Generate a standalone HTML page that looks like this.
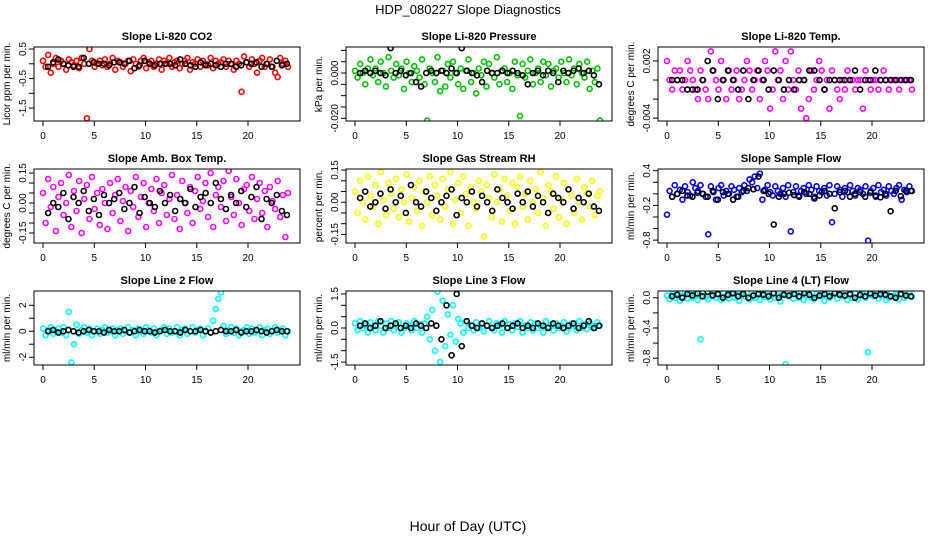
<!DOCTYPE html>
<html><head><meta charset="utf-8"><style>
body{margin:0;background:#fff;}
svg{display:block;font-family:"Liberation Sans",Arial,sans-serif;}
</style></head><body>
<svg id="chart" width="936" height="540" viewBox="0 0 936 540" xmlns="http://www.w3.org/2000/svg">
<rect width="936" height="540" fill="#fff"/>
<text x="468" y="14" text-anchor="middle" font-size="13">HDP_080227  Slope Diagnostics</text>
<text x="468" y="531" text-anchor="middle" font-size="14">Hour of Day (UTC)</text>
<g id="panels"></g>
</svg>
<script>
const xTicks=[0,5,10,15,20];
const titles=["Slope Li-820 CO2","Slope Li-820 Pressure","Slope Li-820 Temp.","Slope Amb. Box Temp.","Slope Gas Stream RH","Slope Sample Flow","Slope Line 2 Flow","Slope Line 3 Flow","Slope Line 4 (LT) Flow"];
const yTitles=["Licor ppm per min.","kPa per min.","degrees C per min.","degrees C per min.","percent per min.","ml/min per min.","ml/min per min.","ml/min per min.","ml/min per min."];
const colors=["#ff0000","#00c000","#ff00ff","#ff00ff","#ffff00","#0000ff","#00ffff","#00ffff","#00ffff"];
const yLims=[[-1.94,0.57],[-0.0212,0.0115],[-0.0043,0.00347],[-0.2,0.17],[-0.19,0.155],[-0.85,0.43],[-2.6,3.1],[-1.63,1.63],[-0.89,0.09]];
const yTicks=[[-1.5,-1,-0.5,0,0.5],[-0.02,-0.015,-0.01,-0.005,0,0.005,0.01],[-0.004,-0.002,0,0.002],[-0.15,-0.1,-0.05,0,0.05,0.1,0.15],[-0.15,-0.1,-0.05,0,0.05,0.1,0.15],[-0.8,-0.6,-0.4,-0.2,0,0.2,0.4],[-2,-1,0,1,2],[-1.5,-1,-0.5,0,0.5,1,1.5],[-0.8,-0.6,-0.4,-0.2,0]];
const yLabels=[["-1.5","","-0.5","","0.5"],["-0.020","","","","0.000","",""],["-0.004","","","0.002"],["-0.15","","","0.00","","","0.15"],["-0.15","","","0.00","","","0.15"],["-0.8","","","-0.2","","","0.4"],["-2","","0","","2"],["-1.5","","","0.0","","","1.5"],["-0.8","","-0.4","","0.0"]];

const co2=[0.1,-0.1,0.3,-0.3,0.0,0.2,-0.1,0.1,0.0,-0.2,0.15,0.05,-0.05,0.1,-0.15,0.2,0.0,-1.85,0.5,0.1,-0.1,0.0,0.1,-0.05,0.15,-0.1,0.0,0.2,-0.2,0.1,0.05,-0.1,0.0,0.1,-0.25,0.15,0.0,-0.1,0.1,0.2,-0.15,0.05,0.1,-0.1,0.0,0.15,-0.2,0.1,0.0,0.2,-0.1,0.05,0.1,-0.15,0.0,0.1,0.2,-0.2,0.05,0.0,0.15,-0.1,0.1,0.0,-0.05,0.2,-0.15,0.1,0.0,0.05,0.15,-0.1,0.1,0.0,-0.2,0.1,0.0,-0.95,0.25,0.05,-0.1,0.15,0.0,-0.3,0.1,0.2,-0.1,0.0,0.15,-0.1,-0.3,-0.45,0.2,0.0,0.1,-0.1];
const co2Ref=[-0.1,0.05,0.15,0.0,-0.05,-0.1,-0.1,0.2,0.0,0.05,0.0,0.0,-0.05,0.05,0.05,0.0,0.1,-0.15,-0.05,0.1,0.0,-0.05,0.0,0.0,0.0,-0.05,0.15,0.0,-0.05,-0.1,0.05,-0.05,0.0,-0.05,-0.1,0.0,0.0,-0.1,-0.05,0.05,0.0,0.05,-0.1,0.0,-0.1,0.1,-0.05,0.0];
const pres=[0.001,-0.002,0.004,0.0,-0.005,0.002,0.006,-0.001,0.002,-0.004,0.005,0.0,-0.006,0.007,0.001,-0.002,0.004,-0.001,0.002,-0.007,0.005,0.0,-0.004,0.003,0.001,-0.002,0.006,-0.005,-0.021,0.002,0.0,-0.004,0.007,-0.008,0.001,-0.006,0.004,-0.002,0.005,0.0,-0.005,0.002,-0.007,0.001,0.006,-0.004,0.0,-0.009,0.002,-0.001,0.005,-0.006,0.004,0.0,-0.002,0.007,-0.005,0.001,0.002,-0.004,0.0,-0.007,0.005,-0.001,-0.019,0.004,-0.002,0.001,0.006,-0.005,0.0,0.002,-0.004,0.005,-0.001,0.004,-0.006,0.001,0.002,-0.002,0.005,0.0,-0.004,0.006,-0.001,0.002,-0.005,0.004,0.0,-0.002,0.005,-0.007,0.001,-0.004,0.002,-0.021];
const presRef=[0,0.001,0,0.001,0,-0.001,0.011,0,0.001,-0.001,0,-0.004,-0.006,0,0.001,0,0.001,0,0.002,0,0.011,0.001,0,-0.001,-0.004,0.001,0,0,0.001,0,0.001,0,-0.001,-0.005,0,0.001,-0.001,0.001,0,-0.004,0.001,0,0.001,0.002,0,0.001,-0.001,-0.005];
const temp=[0.002,0,-0.001,0.001,0,0.001,-0.001,0,0.002,0.001,0,-0.001,-0.002,0.001,0,-0.001,-0.002,0.003,0.001,0,-0.001,0.002,0,-0.002,0.001,-0.001,0,0.001,-0.002,-0.001,0,0.002,0.001,-0.001,0,0.001,-0.002,0,0.002,0.001,-0.003,-0.001,0.003,0,0.001,-0.002,0.002,-0.001,0.003,0,-0.001,0.001,-0.003,0,-0.004,-0.002,0.001,-0.001,0,0.002,0.001,-0.001,0,-0.003,0.001,0,-0.001,-0.002,0,-0.001,0.001,0,0,-0.001,0,0,-0.003,0.001,0,-0.001,0,0,-0.001,0,0.001,0,-0.001,0,0,0,-0.001,0,0,0,0,-0.001];
const tempRef=[0,0,0,-0.001,-0.001,-0.001,0,0.002,0.001,-0.002,0,0.001,0,-0.001,0.001,-0.002,0,0.001,0,-0.001,0.001,0,-0.001,0,-0.001,0,0,0.001,0.001,0,-0.001,0,0,0,0,0,0.001,-0.001,0,0,0.001,0,0,0,0,0,0,0];
const amb=[0.05,-0.1,0.12,-0.02,0.08,-0.14,0.03,0.1,-0.06,0.0,0.14,-0.12,0.06,-0.04,0.11,-0.15,0.02,0.09,-0.08,0.13,-0.03,0.05,-0.11,0.07,0.0,-0.13,0.1,-0.05,0.04,0.12,-0.09,0.01,0.08,-0.14,0.06,-0.02,0.13,-0.07,0.03,0.1,-0.12,0.0,0.07,-0.04,0.12,-0.1,0.05,0.09,-0.06,0.02,0.14,-0.08,0.04,-0.13,0.11,0.0,-0.05,0.08,-0.1,0.06,0.13,-0.03,0.01,0.1,-0.07,0.15,-0.12,0.04,0.08,-0.02,0.11,-0.09,0.16,0.03,-0.06,0.12,0.0,-0.11,0.07,0.09,-0.04,0.13,-0.08,0.02,0.1,-0.05,0.06,-0.12,0.08,0.01,-0.03,0.11,-0.07,0.04,-0.17,0.05];
const ambRef=[-0.05,0.0,-0.02,0.05,-0.08,0.03,0.0,0.06,-0.04,0.02,-0.06,0.04,0.0,0.02,0.05,-0.03,0.0,0.08,-0.05,0.03,0.0,-0.02,0.06,0.0,0.04,-0.04,0.02,0.0,0.07,-0.02,0.03,0.05,0.0,0.1,0.02,-0.03,0.04,0.0,0.06,-0.02,0.03,0.08,-0.08,0.02,0.0,0.04,-0.04,-0.06];
const rh=[0.05,-0.05,0.1,0.0,-0.08,0.12,0.03,-0.02,0.08,-0.1,0.14,0.01,-0.06,0.09,0.04,-0.03,0.11,-0.07,0.06,0.0,0.13,-0.09,0.02,0.07,-0.04,0.1,-0.11,0.05,0.0,0.12,-0.06,0.08,0.03,-0.08,0.11,-0.02,0.06,0.14,-0.1,0.01,0.09,-0.05,0.12,0.04,-0.11,0.07,0.0,-0.03,0.1,0.05,-0.16,0.08,0.02,-0.07,0.13,0.0,0.06,-0.09,0.11,0.03,-0.04,0.09,-0.1,0.07,0.12,-0.02,0.04,-0.08,0.1,0.0,0.06,-0.05,0.14,0.02,-0.11,0.08,0.05,-0.03,0.12,-0.07,0.01,0.09,-0.1,0.06,0.03,-0.05,0.11,0.0,-0.08,0.07,0.04,-0.02,0.1,-0.06,0.03,0.05];
const rhRef=[0.02,0.05,-0.02,0.0,0.04,-0.03,0.06,0.0,0.03,-0.05,0.08,0.0,-0.02,0.05,0.02,-0.04,0.0,0.03,0.06,-0.06,0.02,0.0,0.05,-0.02,0.03,0.0,-0.04,0.06,0.02,0.0,-0.03,0.04,0.0,0.05,-0.02,0.03,0.0,-0.05,0.04,0.02,0.0,0.06,-0.03,0.02,0.0,0.04,-0.02,-0.04];
const flow=[-0.36,0.05,-0.05,0.15,0.0,0.07,-0.1,0.13,0.03,-0.03,0.2,0.1,0.05,0.15,0.0,-0.05,-0.7,0.13,0.03,-0.1,0.1,0.15,-0.03,0.05,0.0,0.13,0.07,-0.05,0.1,0.03,0.15,0.05,0.25,0.2,0.3,0.1,0.35,-0.1,0.07,0.15,0.03,-0.03,0.13,0.05,0.0,0.1,-0.05,0.15,-0.65,0.03,0.13,-0.03,0.05,0.1,0.0,0.15,0.07,-0.05,0.13,0.05,0.03,0.1,-0.03,0.15,-0.49,0.0,0.13,0.07,-0.05,0.1,0.03,0.15,0.05,-0.03,0.1,0.07,0.0,0.13,-0.81,0.05,0.1,-0.05,0.15,0.03,0.07,-0.03,0.13,0.05,0.0,0.1,0.15,-0.1,0.07,0.03,0.13,0.05];
const flowRef=[-0.05,0.0,0.05,-0.03,-0.05,0.02,0.0,-0.05,0.05,-0.1,0.03,0.0,-0.1,-0.05,0.05,0.1,0.08,0.3,0.05,0.0,-0.53,-0.05,0.0,0.02,-0.02,-0.05,0.03,0.0,-0.08,-0.03,0.05,0.0,-0.25,0.03,0.05,-0.05,0.0,0.03,-0.05,0.02,-0.03,-0.06,0.0,-0.3,0.05,-0.04,0.05,0.05];
const line2=[0.2,-0.3,0.1,0.3,-0.2,0.0,0.2,-0.1,0.3,-0.3,1.5,-2.4,-1.0,0.5,-0.2,0.1,0.3,-0.1,0.2,-0.3,0.0,0.2,-0.2,0.1,0.3,-0.1,0.0,0.2,-0.3,0.1,0.2,-0.2,0.0,0.3,-0.1,0.1,-0.3,0.2,0.0,-0.2,0.3,0.1,-0.1,0.2,-0.3,0.0,0.1,0.3,-0.2,0.2,-0.1,0.0,0.3,-0.3,0.1,0.2,-0.2,0.0,0.3,-0.1,0.1,0.2,-0.3,0.0,0.2,-0.1,0.8,1.7,2.5,3.0,0.4,-0.2,0.1,0.3,-0.1,0.2,-0.3,0.0,0.1,0.3,-0.2,0.2,-0.1,0.0,0.3,-0.3,0.1,0.2,-0.2,0.0,0.3,-0.1,0.1,0.2,-0.3,0.0];
const line2Ref=[0.0,0.1,-0.1,0.0,0.1,0.0,-0.1,0.0,0.1,0.0,0.0,-0.1,0.1,0.0,0.0,0.1,-0.1,0.0,0.1,0.0,0.0,-0.1,0.0,0.1,0.0,0.0,-0.1,0.1,0.0,0.0,0.1,0.0,-0.1,0.0,0.1,0.0,0.0,0.1,-0.1,0.0,0.0,0.1,0.0,-0.1,0.0,0.1,0.0,0.0];
const line3=[0.2,-0.1,0.3,0.0,0.1,-0.2,0.25,0.05,-0.1,0.3,0.1,-0.2,0.2,0.0,0.3,-0.1,0.1,0.25,-0.2,0.0,0.2,0.1,-0.1,0.3,0.0,0.15,-0.2,0.2,0.5,-0.5,0.8,-1.0,1.6,-1.5,1.2,-0.8,0.6,-0.3,1.0,-0.6,0.4,0.2,-0.2,0.3,0.0,0.1,-0.1,0.25,0.0,0.2,-0.15,0.1,0.3,0.0,-0.1,0.2,0.1,-0.2,0.3,0.0,0.15,-0.1,0.2,0.05,0.3,-0.2,0.1,0.0,0.25,-0.1,0.2,0.0,0.1,-0.2,0.3,0.05,0.15,-0.1,0.2,0.0,0.1,0.25,-0.15,0.0,0.2,0.1,-0.1,0.3,0.0,0.15,-0.05,0.2,0.1,0.0,0.25,0.1];
const line3Ref=[0.1,0.2,0.0,0.1,0.3,0.0,0.1,0.2,0.0,0.1,0.0,0.2,0.1,0.0,0.2,0.1,-0.5,1.0,-1.2,1.5,-0.8,0.3,0.1,0.0,0.2,0.1,0.0,0.1,0.2,0.0,0.1,0.2,0.0,0.1,0.0,0.2,0.1,0.0,0.2,0.1,0.0,0.1,0.2,0.0,0.1,0.3,0.0,0.1];
const line4=[0.03,-0.02,0.05,0.0,0.06,-0.04,0.02,0.07,-0.01,0.04,0.0,0.05,-0.03,-0.55,0.06,0.01,-0.02,0.04,0.1,0.0,0.05,-0.03,0.07,0.02,-0.01,0.06,0.0,0.04,-0.04,0.05,0.02,0.07,-0.02,0.03,0.0,0.06,-0.03,0.04,0.01,0.05,-0.02,0.07,0.0,0.03,-0.05,0.06,-0.88,0.02,0.04,-0.01,0.05,0.0,0.07,-0.03,0.03,0.06,0.0,-0.02,0.05,0.02,0.04,-0.04,0.06,0.0,0.03,0.08,-0.01,0.05,0.02,0.09,-0.03,0.04,0.0,0.06,-0.02,0.03,0.05,0.0,-0.72,0.04,0.02,0.06,-0.01,0.03,0.05,-0.03,0.0,0.07,0.02,0.04,-0.02,0.05,0.0,0.03,0.06,0.01];
const line4Ref=[0.02,0.04,0.0,0.05,0.03,0.06,0.02,0.08,0.03,0.05,0.0,0.04,0.06,0.02,0.05,0.0,0.03,0.05,0.04,0.02,0.06,0.0,0.04,0.03,0.05,0.02,0.06,0.04,0.0,0.03,0.05,0.02,0.06,0.04,0.03,0.05,0.0,0.04,0.02,0.06,0.03,0.05,0.04,0.02,0.0,0.05,0.03,0.02];

const series=[co2,pres,temp,amb,rh,flow,line2,line3,line4];
const refSeries=[co2Ref,presRef,tempRef,ambRef,rhRef,flowRef,line2Ref,line3Ref,line4Ref];
const colLeft=[0,312,624];
const rowTop=[47,169,291];
const NS="http://www.w3.org/2000/svg";
const root=document.getElementById('panels');
function mk(tag,attrs,parent){const e=document.createElementNS(NS,tag);for(const k in attrs)e.setAttribute(k,attrs[k]);parent.appendChild(e);return e;}
for(let p=0;p<9;p++){
  const L=colLeft[p%3]+34, T=rowTop[Math.floor(p/3)], W=266, H=74;
  const g=mk('g',{},root);
  
  
  const xs=h=>L+9+h*10.25;
  const [y0,y1]=yLims[p];
  const ys=v=>T+H-(v-y0)/(y1-y0)*H;
  const t=mk('text',{x:L+W/2,y:T-7,'text-anchor':'middle','font-size':11,'font-weight':'bold'},g);
  t.textContent=titles[p];
  
  
  const yt=mk('text',{x:0,y:0,'text-anchor':'middle','font-size':10,transform:`translate(${L-24},${T+H/2}) rotate(-90)`},g);
  yt.textContent=yTitles[p];
  
  
  const xa=mk('g',{},g);
  
  
  mk('line',{x1:xs(xTicks[0]),x2:xs(xTicks[xTicks.length-1]),y1:T+H,y2:T+H,stroke:'#000'},xa);
  xTicks.forEach(v=>{mk('line',{x1:xs(v),x2:xs(v),y1:T+H,y2:T+H+5,stroke:'#000'},xa);
    const tx=mk('text',{x:xs(v),y:T+H+18,'text-anchor':'middle','font-size':10},xa);tx.textContent=v;
    
    });
  const ya=mk('g',{},g);
  
  
  const tk=yTicks[p];
  mk('line',{x1:L,x2:L,y1:ys(tk[0]),y2:ys(tk[tk.length-1]),stroke:'#000'},ya);
  tk.forEach((v,i)=>{mk('line',{x1:L-5,x2:L,y1:ys(v),y2:ys(v),stroke:'#000'},ya);
    if(yLabels[p][i]){const tx=mk('text',{x:0,y:0,'text-anchor':'middle','font-size':10,transform:`translate(${L-8},${ys(v)}) rotate(-90)`},ya);tx.textContent=yLabels[p][i];
    
    }});
  const clipId='c'+p;
  const cp=mk('clipPath',{id:clipId},g);mk('rect',{x:L,y:T,width:W,height:H},cp);
  const pts=mk('g',{'clip-path':`url(#${clipId})`,fill:'none','stroke-width':1.6},g);
  
  
  const s=series[p], n=s.length;
  s.forEach((v,i)=>{const c=mk('circle',{cx:xs(i*23.9/(n-1)),cy:ys(v),r:2.5,stroke:colors[p]},pts);
    
    });
  const r=refSeries[p], m=r.length;
  r.forEach((v,i)=>{const c=mk('circle',{cx:xs(0.5+i*23.3/(m-1)),cy:ys(v),r:2.5,stroke:'#000'},pts);
    
    });
  const box=mk('rect',{x:L,y:T,width:W,height:H,fill:'none',stroke:'#000'},g);
  
  
}
</script>
</body></html>
